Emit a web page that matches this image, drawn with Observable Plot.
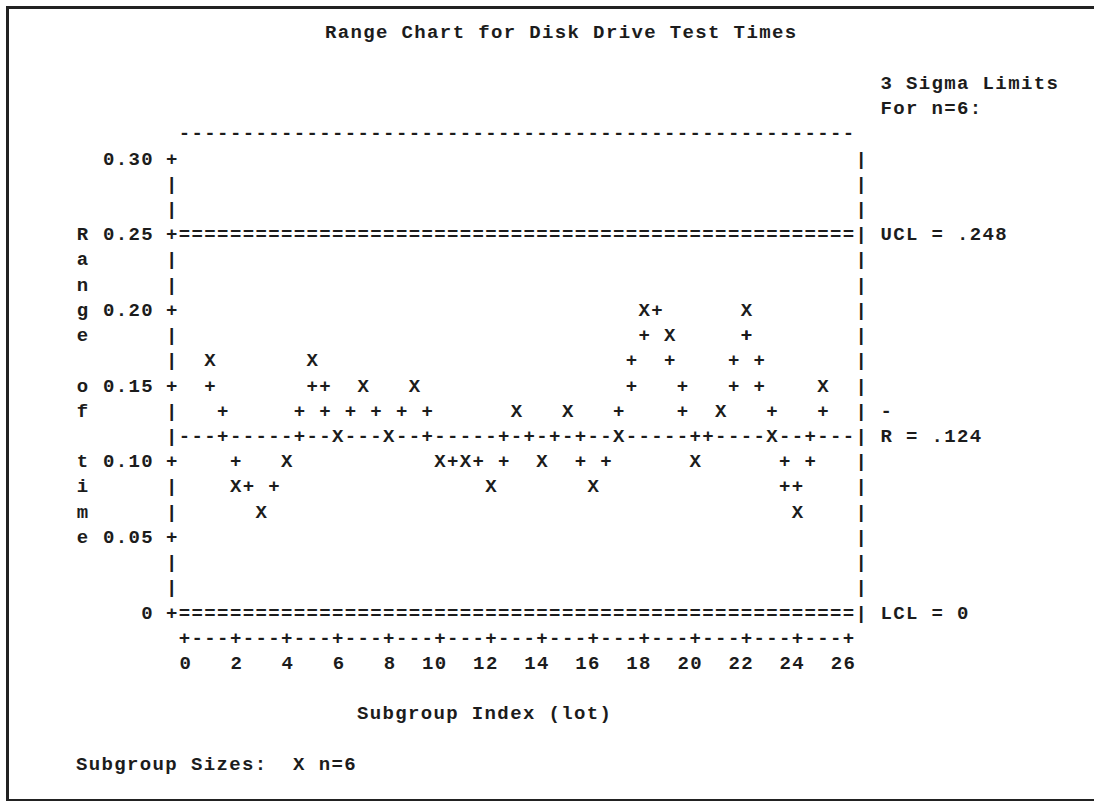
<!DOCTYPE html>
<html>
<head>
<meta charset="utf-8">
<script src="https://cdn.jsdelivr.net/npm/d3@7"></script>
<script src="https://cdn.jsdelivr.net/npm/@observablehq/plot@0.6"></script>
<style>
  html, body { margin: 0; padding: 0; background: #fff; overflow: hidden; }
  #page { position: relative; width: 1094px; height: 801px; overflow: hidden; }
  #border { position: absolute; left: 6px; top: 6px; width: 1110px; height: 795px; box-sizing: border-box;
            border-top: 3px solid #222; border-left: 3px solid #222; border-bottom: 2px solid #222; pointer-events: none; }
  svg { display: block; }
</style>
</head>
<body>
<div id="page"><div id="chart"></div><div id="border"></div></div>
<script>
// ---- data ----
const subgroups = [1, 2, 3, 4, 5, 6, 7, 8, 9, 10, 11, 12, 13, 14, 15, 16, 17, 18, 19, 20, 21, 22, 23, 24, 25];
const ranges = [0.167, 0.083, 0.067, 0.100, 0.167, 0.117, 0.150, 0.117, 0.150, 0.100, 0.100, 0.083, 0.133,
                0.100, 0.133, 0.083, 0.117, 0.200, 0.183, 0.100, 0.133, 0.200, 0.117, 0.067, 0.150];
const ucl = 0.248;
const rbar = 0.124;
const lcl = 0;
const xTicks = [0, 2, 4, 6, 8, 10, 12, 14, 16, 18, 20, 22, 24, 26];
const yTicks = [0, 0.05, 0.10, 0.15, 0.20, 0.25, 0.30];
const yTickLabels = ["0", "0.05", "0.10", "0.15", "0.20", "0.25", "0.30"];
const title = "Range Chart for Disk Drive Test Times";
const xLabel = "Subgroup Index (lot)";
const yLabel = "Range of time";
const sizesNote = "Subgroup Sizes:  X n=6";
const limitsHead = ["3 Sigma Limits", "For n=6:"];
const uclText = "UCL = .248";
const rbarText = "R = .124";
const lclText = "LCL = 0";

// ---- line-printer grid: one column = half a subgroup, one row = 1/3 of 0.05 ----
const COL = 0.5;
const ROW = 0.05 / 3;
const FONT = "'Liberation Mono', 'DejaVu Sans Mono', monospace";
const FS = 19;
const LS = 1.37;
const INK = "#1c1c1c";
const xMax = 26;
const cMin = 0, cMax = Math.round(xMax / COL);     // plotting columns
const kMax = Math.round(0.30 / ROW);               // top row

const data = subgroups.map((s, i) => ({s, r: ranges[i], c: Math.round(s / COL), k: Math.round(ranges[i] / ROW)}));
const occupied = new Set(data.map(d => d.c + "," + d.k));

// joins drawn the way a line printer joins points: one "+" per intermediate row/column
const joins = [];
for (let i = 1; i < data.length; i++) {
  const a = data[i - 1], b = data[i];
  const dc = b.c - a.c, dk = b.k - a.k;
  if (Math.abs(dk) >= Math.abs(dc)) {
    const st = Math.sign(dk);
    for (let k = a.k + st; k !== b.k; k += st) joins.push({c: Math.round(a.c + dc * (k - a.k) / dk), k});
  } else {
    for (let c = a.c + 1; c < b.c; c++) joins.push({c, k: Math.round(a.k + dk * (c - a.c) / dc)});
  }
}
joins.forEach(j => occupied.add(j.c + "," + j.k));

const kU = Math.round(ucl / ROW), kC = Math.round(rbar / ROW), kL = Math.round(lcl / ROW);
const tickRows = new Set(yTicks.map(t => Math.round(t / ROW)));

// frame glyphs
const frame = [];
for (let k = 0; k <= kMax; k++) {
  frame.push({c: -1, k, ch: (tickRows.has(k)) ? "+" : "|"});
  frame.push({c: cMax + 1, k, ch: "|"});
}
for (let c = cMin; c <= cMax; c++) {
  frame.push({c, k: kMax + 1, ch: "-"});
  frame.push({c, k: -1, ch: (c % Math.round(2 / COL) === 0) ? "+" : "-"});
}
// limit lines
const limits = [];
for (let c = cMin; c <= cMax; c++) {
  limits.push({c, k: kU, ch: "="});
  limits.push({c, k: kL, ch: "="});
  if (!occupied.has(c + "," + kC)) limits.push({c, k: kC, ch: "-"});
}
// vertical y label letters (spaces skipped)
const yLetters = [];
[...yLabel].forEach((ch, i) => { if (ch !== " ") yLetters.push({c: -8, k: kU - i, ch}); });

const glyphOpts = {
  x: d => d.c * COL, y: d => d.k * ROW, text: "ch",
  fontFamily: FONT, fontWeight: "bold", fontSize: FS, fill: INK, dx: 0.7
};
const strAt = (str, c, k, extra = {}) => Plot.text([str], {
  x: () => (c - 0.5) * COL, y: () => k * ROW, text: d => d, textAnchor: "start",
  fontFamily: FONT, fontWeight: "bold", fontSize: FS, fill: INK, ...extra
});

const chart = Plot.plot({
  width: 1094,
  height: 801,
  marginLeft: 184,
  marginRight: 246,
  marginTop: 158,
  marginBottom: 189,
  style: {fontFamily: FONT, fontWeight: "bold", fontSize: FS + "px", letterSpacing: LS + "px", color: INK, background: "#fff"},
  x: {domain: [0, xMax], label: null},
  y: {domain: [0, 0.30], label: null},
  marks: [
    Plot.axisX({ticks: xTicks, tickSize: 0, tickPadding: 43, tickFormat: d => String(d), textAnchor: "end", dx: 7.7,
                fontSize: FS, fontFamily: FONT, fontWeight: "bold", fill: INK, label: null}),
    Plot.axisY({ticks: yTicks, tickSize: 0, tickPadding: 30.5, tickFormat: (d, i) => yTickLabels[i], textAnchor: "end",
                fontSize: FS, fontFamily: FONT, fontWeight: "bold", fill: INK, label: null}),
    Plot.text(frame, glyphOpts),
    Plot.text(limits, glyphOpts),
    Plot.text(yLetters, glyphOpts),
    Plot.text(joins, {...glyphOpts, text: () => "+"}),
    Plot.text(data, {x: "s", y: d => d.k * ROW, text: () => "X", fontFamily: FONT, fontWeight: "bold", fontSize: FS, fill: INK, dx: 0.7}),
    // annotations on the printer grid
    Plot.text([title], {x: () => 29.5 * COL, y: () => (kMax + 5) * ROW, text: d => d, textAnchor: "middle",
                        fontFamily: FONT, fontWeight: "bold", fontSize: FS, fill: INK}),
    strAt(limitsHead[0], cMax + 3, kMax + 3),
    strAt(limitsHead[1], cMax + 3, kMax + 2),
    strAt(uclText, cMax + 3, kU),
    strAt("-", cMax + 3, kC + 1),
    strAt(rbarText, cMax + 3, kC),
    strAt(lclText, cMax + 3, kL),
    strAt(xLabel, 14, -4),
    strAt(sizesNote, -8, -6)
  ]
});
document.getElementById("chart").appendChild(chart);
</script>
</body>
</html>
